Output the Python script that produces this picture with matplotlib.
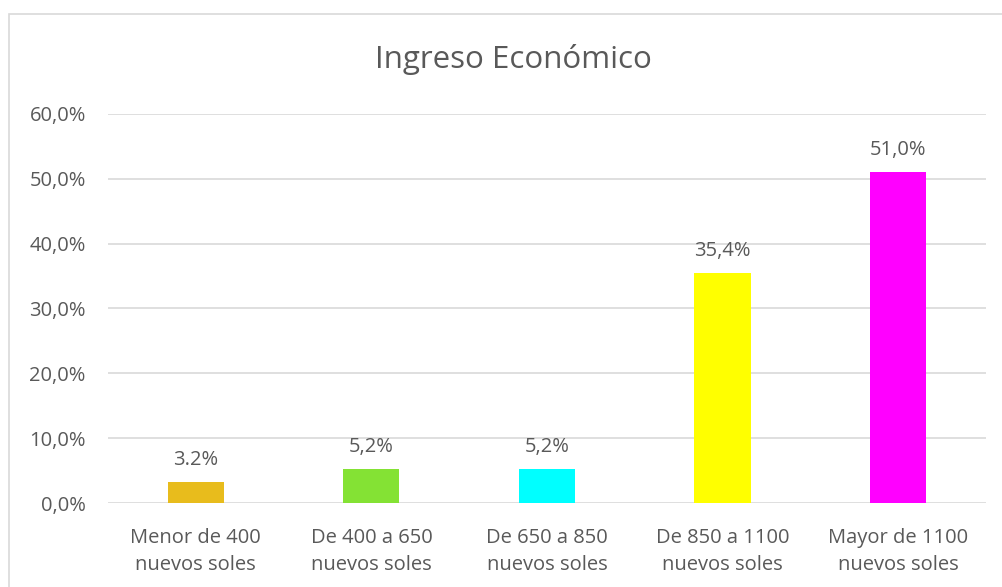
import matplotlib
matplotlib.use("Agg")
import matplotlib.pyplot as plt
from matplotlib.patches import Rectangle

categorias = ["Menor de 400\nnuevos soles", "De 400 a 650\nnuevos soles", "De 650 a 850\nnuevos soles",
              "De 850 a 1100\nnuevos soles", "Mayor de 1100\nnuevos soles"]
valores = [3.2, 5.2, 5.2, 35.4, 51.0]
etiquetas = ["3.2%", "5,2%", "5,2%", "35,4%", "51,0%"]
colores = ["#E8BC1C", "#84E234", "#00FFFF", "#FFFF00", "#FF00FF"]
yticks = [0, 10, 20, 30, 40, 50, 60]
ytick_labels = ["0,0%", "10,0%", "20,0%", "30,0%", "40,0%", "50,0%", "60,0%"]

plt.rcParams['font.family'] = ['Open Sans', 'DejaVu Sans']
gris = "#595959"

fig = plt.figure(figsize=(10.03, 5.87), dpi=100)
ax = fig.add_axes([0.1077, 0.1431, 0.8753, 0.6627])

x = range(len(categorias))
ax.bar(x, valores, width=0.32, color=colores, zorder=3)
for i, v in enumerate(valores):
    ax.text(i, v + 3.5, etiquetas[i], ha='center', va='center', fontsize=14.5, color=gris)

ax.set_xlim(-0.5, len(categorias) - 0.5)
ax.set_ylim(0, 60)
ax.set_yticks(yticks)
ax.set_yticklabels(ytick_labels, fontsize=14.5, color=gris)
ax.set_xticks(list(x))
ax.set_xticklabels(categorias, fontsize=14.5, color=gris, linespacing=1.45)
ax.tick_params(length=0)
ax.tick_params(axis='x', pad=18)
ax.tick_params(axis='y', pad=16)
ax.grid(axis='y', color='#D9D9D9', linewidth=1.2, zorder=0)
for s in ax.spines.values():
    s.set_visible(False)

fig.text(0.512, 0.898, "Ingreso Económico", ha='center', va='center', fontsize=22.5, color=gris)

borde = Rectangle((9 / 1003, -0.1), 1.2, 0.1 + 1 - 14 / 587, transform=fig.transFigure,
                  fill=False, edgecolor='#D9D9D9', linewidth=1.2)
fig.patches.append(borde)

fig.savefig("out.png", dpi=100)
